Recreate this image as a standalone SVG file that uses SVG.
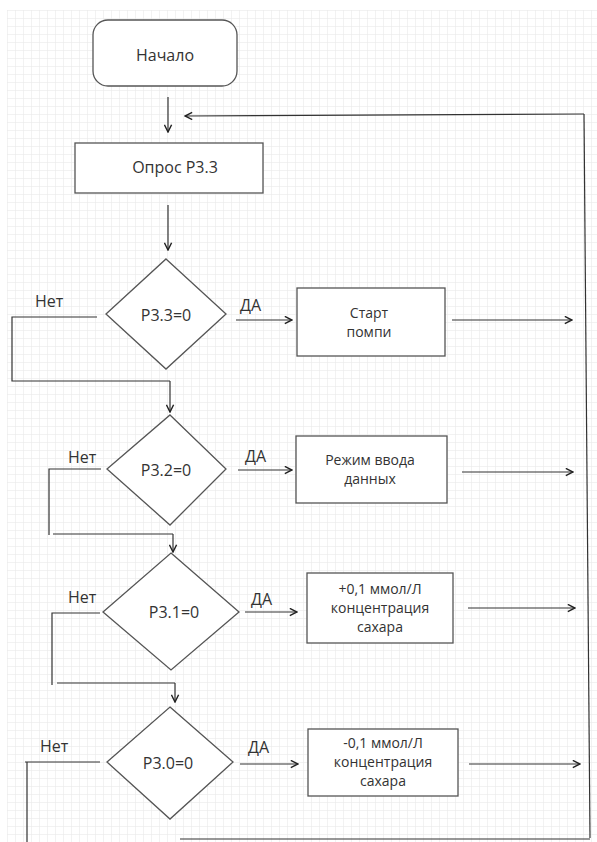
<svg xmlns="http://www.w3.org/2000/svg" width="597" height="842" viewBox="0 0 597 842">
  <defs>
    <pattern id="grid" x="7" y="10" width="8" height="8" patternUnits="userSpaceOnUse">
      <path d="M0,0 H8 M0,0 V8" fill="none" stroke="#e6e6e6" stroke-width="1"/>
    </pattern>
    <marker id="arrow" viewBox="0 0 10 10" refX="9" refY="5" markerWidth="9" markerHeight="9" markerUnits="userSpaceOnUse" orient="auto">
      <path d="M1,1 L9,5 L1,9" fill="none" stroke="#222" stroke-width="1.6"/>
    </marker>
  </defs>
  <style>
    .shape { fill: #ffffff; stroke: #555555; stroke-width: 1.3; }
    .wire { fill: none; stroke: #333333; stroke-width: 1.2; }
    .arr { fill: none; stroke: #333333; stroke-width: 1.2; marker-end: url(#arrow); }
    text { font-family: "Open Sans", "Noto Sans", "DejaVu Sans", sans-serif; font-size: 16px; fill: #333333; }
    .c { text-anchor: middle; }
    .m { font-size: 14px; }
  </style>

  <rect width="597" height="842" fill="#ffffff"/>
  <rect x="7" y="10" width="590" height="832" fill="url(#grid)"/>

  <!-- connectors -->
  <g id="connectors">
    <path class="arr" d="M168,97 V132"/>
    <path class="arr" d="M168,205 V250"/>
    <!-- loop back to the poll step -->
    <path class="wire" d="M590,838 L584,114"/>
    <path class="arr" d="M584,114 L185,116"/>
    <path class="wire" d="M180,839 H590"/>

    <!-- P3.3 -->
    <path class="arr" d="M236,320 H292"/>
    <path class="arr" d="M452,320 H572"/>
    <path class="wire" d="M97,317 H12 V381 H170"/>
    <path class="arr" d="M170,381 V412"/>

    <!-- P3.2 -->
    <path class="arr" d="M238,470 H292"/>
    <path class="arr" d="M462,472 H573"/>
    <path class="wire" d="M101,469 H49 V535"/>
    <path class="wire" d="M53,534 H173"/>
    <path class="arr" d="M173,534 V552"/>

    <!-- P3.1 -->
    <path class="arr" d="M245,612 H297"/>
    <path class="arr" d="M468,608 H575"/>
    <path class="wire" d="M100,613 H52 V685"/>
    <path class="wire" d="M57,683 H175"/>
    <path class="arr" d="M175,683 V702"/>

    <!-- P3.0 -->
    <path class="arr" d="M240,764 H298"/>
    <path class="arr" d="M469,764 H580"/>
    <path class="wire" d="M100,762 H25 M27,762 V842"/>
  </g>

  <g id="start">
    <rect class="shape" x="93" y="20" width="144" height="66" rx="15"/>
    <text class="c" x="165" y="61">Начало</text>
  </g>

  <g id="poll">
    <rect class="shape" x="75" y="143" width="188" height="50"/>
    <text class="c" x="175" y="173">Опрос Р3.3</text>
  </g>

  <g id="check33">
    <polygon class="shape" points="166,259 226,314 166,369 106,314"/>
    <text class="c" x="166" y="321">Р3.3=0</text>
    <text x="35" y="307">Нет</text>
    <text x="240" y="311">ДА</text>
  </g>

  <g id="pump">
    <rect class="shape" x="297" y="288" width="148" height="68"/>
    <text class="c m" x="369" y="318">Старт</text>
    <text class="c m" x="369" y="337">помпи</text>
  </g>

  <g id="check32">
    <polygon class="shape" points="170,415 226,469 170,525 107,469"/>
    <text class="c" x="166" y="476">Р3.2=0</text>
    <text x="68" y="463">Нет</text>
    <text x="245" y="462">ДА</text>
  </g>

  <g id="input">
    <rect class="shape" x="296" y="436" width="151" height="67"/>
    <text class="c m" x="370" y="465">Режим ввода</text>
    <text class="c m" x="370" y="484">данных</text>
  </g>

  <g id="check31">
    <polygon class="shape" points="171,553 239,612 171,670 103,612"/>
    <text class="c" x="174" y="618">Р3.1=0</text>
    <text x="68" y="603">Нет</text>
    <text x="251" y="605">ДА</text>
  </g>

  <g id="plus">
    <rect class="shape" x="307" y="573" width="146" height="70"/>
    <text class="c m" x="380" y="594">+0,1 ммол/Л</text>
    <text class="c m" x="380" y="613">концентрация</text>
    <text class="c m" x="380" y="632">сахара</text>
  </g>

  <g id="check30">
    <polygon class="shape" points="170,707 233,762 170,819 107,762"/>
    <text class="c" x="168" y="769">Р3.0=0</text>
    <text x="40" y="752">Нет</text>
    <text x="248" y="753">ДА</text>
  </g>

  <g id="minus">
    <rect class="shape" x="308" y="729" width="150" height="67"/>
    <text class="c m" x="383" y="748">-0,1 ммол/Л</text>
    <text class="c m" x="383" y="767">концентрация</text>
    <text class="c m" x="383" y="786">сахара</text>
  </g>
</svg>
